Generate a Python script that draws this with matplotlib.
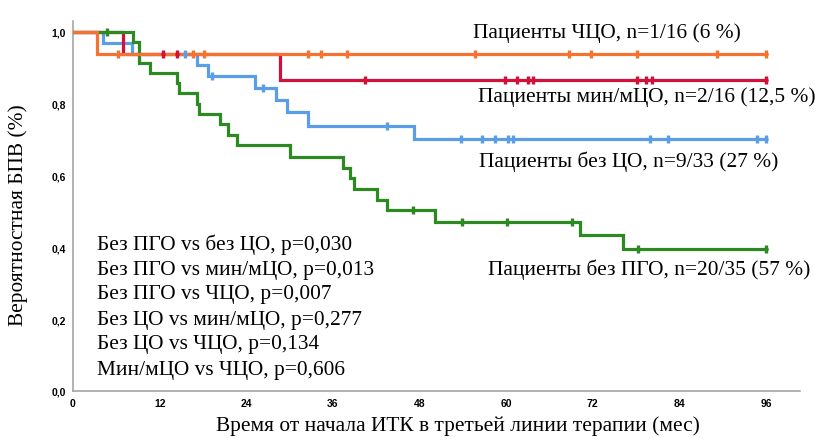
import matplotlib
matplotlib.use("Agg")
import matplotlib.pyplot as plt
from matplotlib import font_manager

# ---------------- data ----------------
orange_event_times = [3.3]
orange_surv = [0.9375]
orange_censor = [6.2, 16.6, 18.1, 32.6, 34.3, 38.0, 55.7, 68.7, 71.7, 78.1, 89.2, 96.0]

red_event_times = [6.9, 28.7]
red_surv = [0.9375, 0.866]
red_censor = [12.5, 14.4, 40.4, 59.8, 61.5, 63.0, 63.7, 78.1, 79.4, 80.2, 96.0]

blue_event_times = [4.1, 8.2, 17.2, 18.7, 25.2, 28.1, 29.6, 32.5, 47.2]
blue_surv = [0.970, 0.939, 0.908, 0.877, 0.844, 0.810, 0.777, 0.738, 0.702]
blue_censor = [15.5, 19.3, 26.3, 43.5, 53.8, 56.6, 58.5, 60.2, 60.9, 79.9, 82.4, 94.7, 96.0]

green_event_times = [8.3, 9.1, 10.7, 14.4, 14.7, 17.2, 17.4, 20.4, 21.5, 22.7,
                     30.0, 37.4, 38.4, 38.9, 42.1, 43.5, 50.1, 70.2, 76.2]
green_surv = [0.971, 0.914, 0.886, 0.857, 0.829, 0.800, 0.771, 0.743, 0.714, 0.686,
              0.652, 0.622, 0.592, 0.563, 0.532, 0.503, 0.470, 0.435, 0.396]
green_censor = [4.7, 47.1, 53.9, 60.1, 69.1, 78.3, 96.0]

group_labels = ["Пациенты ЧЦО, n=1/16 (6 %)",
                "Пациенты мин/мЦО, n=2/16 (12,5 %)",
                "Пациенты без ЦО, n=9/33 (27 %)",
                "Пациенты без ПГО, n=20/35 (57 %)"]

pvalue_lines = ["Без ПГО vs без ЦО, p=0,030",
                "Без ПГО vs мин/мЦО, p=0,013",
                "Без ПГО vs ЧЦО, p=0,007",
                "Без ЦО vs мин/мЦО, p=0,277",
                "Без ЦО vs ЧЦО, p=0,134",
                "Мин/мЦО vs ЧЦО, p=0,606"]

x_ticks = [0, 12, 24, 36, 48, 60, 72, 84, 96]
y_ticks = [0.0, 0.2, 0.4, 0.6, 0.8, 1.0]
y_tick_labels = ["0,0", "0,2", "0,4", "0,6", "0,8", "1,0"]
x_label = "Время от начала ИТК в третьей линии терапии (мес)"
y_label = "Вероятностная БПВ (%)"

# --------------- style ---------------
serif = ["Liberation Serif", "DejaVu Serif"]
names = {f.name for f in font_manager.fontManager.ttflist}
tickfont = ["Liberation Sans Narrow"] if "Liberation Sans Narrow" in names else ["Liberation Sans"]
tickfont = tickfont + ["DejaVu Sans"]

c_orange = "#f47330"
c_red = "#d2113b"
c_blue = "#5b9ee8"
c_green = "#2d8a23"

W, H = 815, 439
fig = plt.figure(figsize=(W / 100, H / 100), dpi=100)
ax_left, ax_right = 73, 800
ax_bottom = 392
ylim_top = 1.03
px_per_unit = 359
ax_h = px_per_unit * ylim_top
ax = fig.add_axes([ax_left / W, 1 - ax_bottom / H, (ax_right - ax_left) / W, ax_h / H])
xmax = 96 + (ax_right - 766) / 7.22
ax.set_xlim(0, xmax)
ax.set_ylim(0, ylim_top)


def draw(event_times, surv, censor, color, z):
    end = max(censor + event_times)
    xs = [0] + event_times + [end]
    ys = [1.0] + surv + [surv[-1]]
    ax.step(xs, ys, where="post", color=color, lw=2.3, zorder=z, solid_joinstyle="miter")
    return xs, ys


def censor_marks(xs, ys, censor, color, z):
    cy = []
    for c in censor:
        level = 1.0
        for t, s in zip(xs[1:-1], ys[1:-1]):
            if c >= t:
                level = s
        cy.append(level)
    ax.plot(censor, cy, ls="none", marker="|", ms=6, mew=2.4, color=color, zorder=z)
    ax.plot(censor, cy, ls="none", marker="o", ms=3.2, mew=0, color=color, zorder=z)


groups = [
    (blue_event_times, blue_surv, blue_censor, c_blue),
    (red_event_times, red_surv, red_censor, c_red),
    (green_event_times, green_surv, green_censor, c_green),
    (orange_event_times, orange_surv, orange_censor, c_orange),
]
drawn = []
for i, (et, sv, cz, col) in enumerate(groups):
    drawn.append(draw(et, sv, cz, col, 2 + i))
for i, ((et, sv, cz, col), (xs, ys)) in enumerate(zip(groups, drawn)):
    censor_marks(xs, ys, cz, col, 10 + i)

for s in ["top", "right"]:
    ax.spines[s].set_visible(False)
for s in ["left", "bottom"]:
    ax.spines[s].set_color("#a6a6a6")
    ax.spines[s].set_linewidth(1.2)

ax.set_xticks(x_ticks)
ax.set_xticklabels([str(v) for v in x_ticks], family=tickfont, fontweight="bold", fontsize=7.5)
ax.set_yticks(y_ticks)
ax.set_yticklabels(y_tick_labels, family=tickfont, fontweight="bold", fontsize=7.5)
ax.tick_params(axis="both", length=0, pad=5)

# group labels
fs = 15.4
fig.text(473 / W, 1 - 33 / H, group_labels[0], family=serif, fontsize=fs, va="center", ha="left")
fig.text(478 / W, 1 - 97 / H, group_labels[1], family=serif, fontsize=fs, va="center", ha="left")
fig.text(479 / W, 1 - 162 / H, group_labels[2], family=serif, fontsize=fs, va="center", ha="left")
fig.text(488 / W, 1 - 270 / H, group_labels[3], family=serif, fontsize=fs, va="center", ha="left")

for k, line in enumerate(pvalue_lines):
    fig.text(97 / W, 1 - (245 + 25 * k) / H, line, family=serif, fontsize=fs, va="center", ha="left")

fig.text(458 / W, 1 - 426 / H, x_label, family=serif, fontsize=fs, va="center", ha="center")
fig.text(18 / W, 1 - 215 / H, y_label, family=serif, fontsize=fs, va="center", ha="center", rotation=90)

fig.savefig("out.png", dpi=100)
